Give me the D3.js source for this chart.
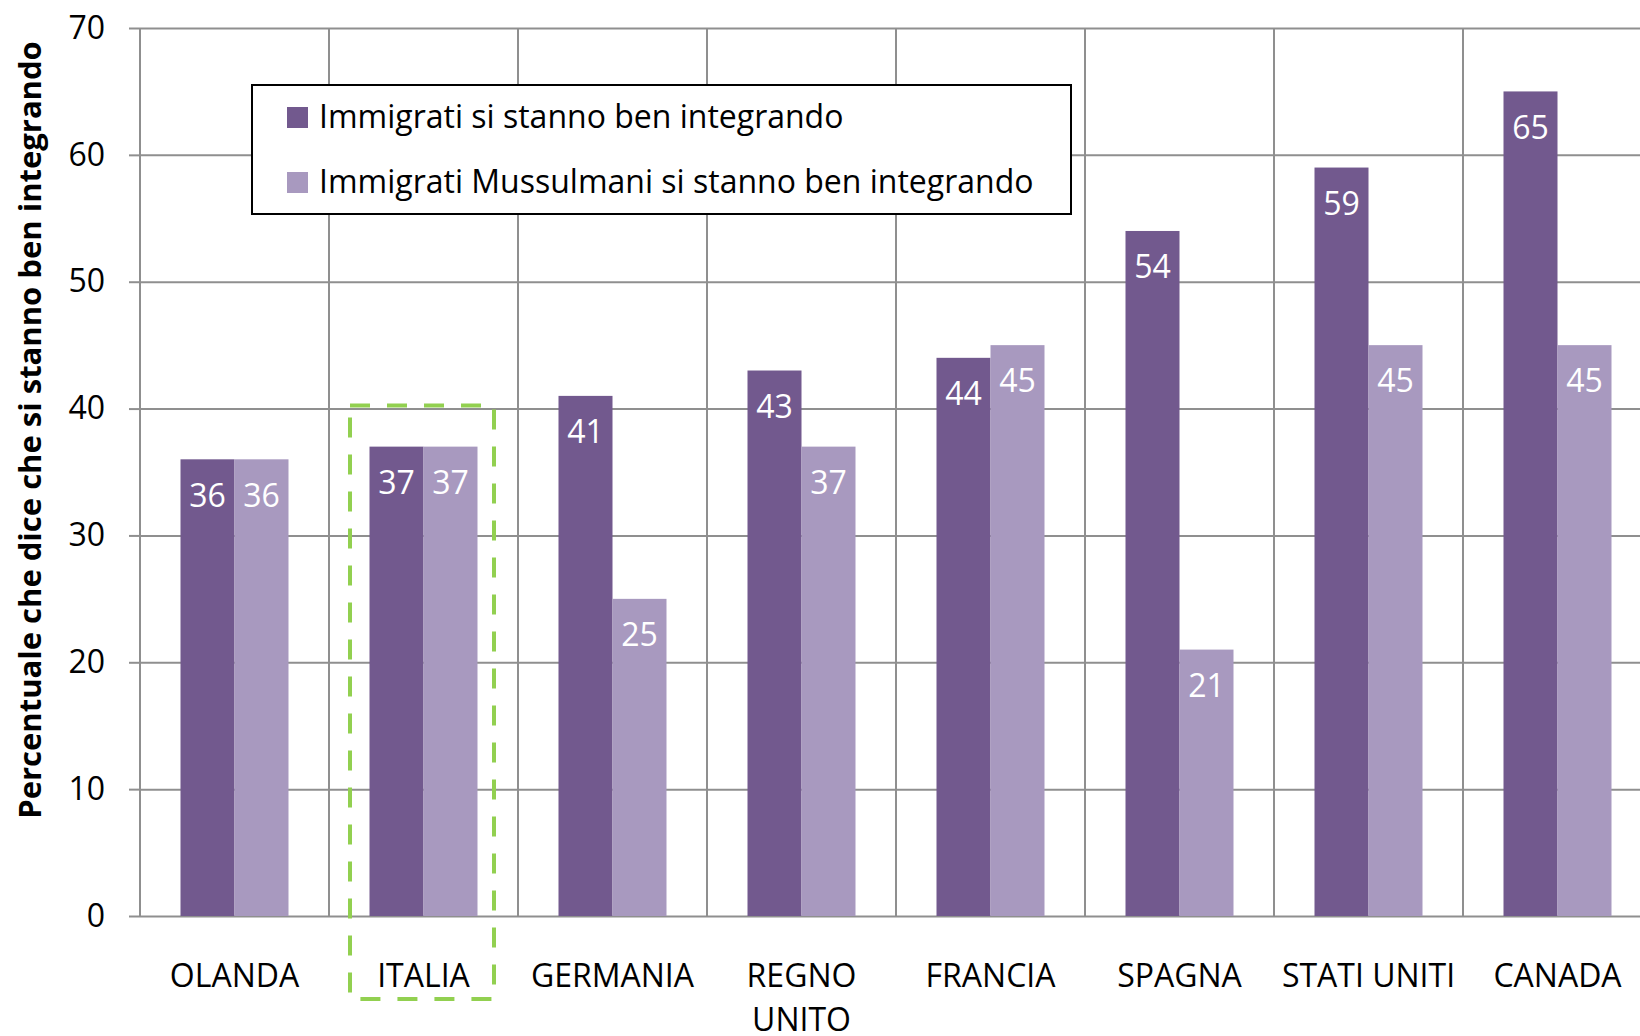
<!DOCTYPE html>
<html>
<head>
<meta charset="utf-8">
<script src="https://cdn.jsdelivr.net/npm/d3@7"></script>
<style>
  body { margin: 0; background: #fff; }
  svg { display: block; font-family: "Open Sans", sans-serif; }
</style>
</head>
<body>
<svg width="1640" height="1036"></svg>
<script>
// chart values
var categories = ["OLANDA", "ITALIA", "GERMANIA", "REGNO UNITO", "FRANCIA", "SPAGNA", "STATI UNITI", "CANADA"];
var catLabels = [["OLANDA"], ["ITALIA"], ["GERMANIA"], ["REGNO", "UNITO"], ["FRANCIA"], ["SPAGNA"], ["STATI UNITI"], ["CANADA"]];
var seriesNames = ["Immigrati si stanno ben integrando", "Immigrati Mussulmani si stanno ben integrando"];
var immigrati = [36, 37, 41, 43, 44, 54, 59, 65];
var mussulmani = [36, 37, 25, 37, 45, 21, 45, 45];
var yTicks = [0, 10, 20, 30, 40, 50, 60, 70];
var highlight = "ITALIA";

var colors = ["#72598e", "#a899bf"];
var gridColor = "#8f8f8f";

// note: "top" clashes with window.top, so plot* names
var plotLeft = 140, plotRight = 1652, plotTop = 28, plotBottom = 916;

var svg = d3.select("svg");

var x = d3.scaleBand()
    .domain(categories)
    .range([plotLeft, plotRight])
    .padding(0);

var x1 = d3.scaleBand()
    .domain([0, 1])
    .range([0, x.bandwidth()])
    .paddingInner(0)
    .paddingOuter(0.75);

var y = d3.scaleLinear()
    .domain([0, 70])
    .range([plotBottom, plotTop]);

var rows = categories.map(function(c, i) {
    return { cat: c, vals: [immigrati[i], mussulmani[i]] };
});

// horizontal gridlines
svg.append("g")
    .attr("transform", "translate(" + plotLeft + ",0)")
    .call(d3.axisLeft(y).tickValues(yTicks).tickSize(-(plotRight - plotLeft)).tickFormat(""))
    .call(function(g) { g.select(".domain").remove(); })
    .selectAll("line")
    .attr("stroke", gridColor)
    .attr("stroke-width", 2);

// vertical gridlines between categories
svg.append("g").selectAll("line")
    .data(categories.concat(["end"]))
    .enter()
    .append("line")
    .attr("x1", function(d) { return d === "end" ? plotRight : x(d); })
    .attr("x2", function(d) { return d === "end" ? plotRight : x(d); })
    .attr("y1", plotTop)
    .attr("y2", plotBottom)
    .attr("stroke", gridColor)
    .attr("stroke-width", 2);

// y axis ticks + labels
var yAxis = svg.append("g")
    .attr("transform", "translate(" + plotLeft + ",0)")
    .call(d3.axisLeft(y).tickValues(yTicks).tickSize(11).tickPadding(24))
    .call(function(g) { g.select(".domain").remove(); });
yAxis.selectAll("line").attr("stroke", gridColor).attr("stroke-width", 2);
yAxis.selectAll("text")
    .attr("font-family", "Open Sans")
    .attr("font-size", 32)
    .attr("fill", "#000");

// bars
var groups = svg.append("g").selectAll("g")
    .data(rows)
    .enter()
    .append("g")
    .attr("transform", function(d) { return "translate(" + x(d.cat) + ",0)"; });

groups.selectAll("rect")
    .data(function(d) { return d.vals; })
    .enter()
    .append("rect")
    .attr("x", function(d, i) { return x1(i); })
    .attr("y", function(d) { return y(d); })
    .attr("width", x1.bandwidth())
    .attr("height", function(d) { return y(0) - y(d); })
    .attr("fill", function(d, i) { return colors[i]; });

// value labels inside the bar tops
groups.selectAll("text")
    .data(function(d) { return d.vals; })
    .enter()
    .append("text")
    .attr("x", function(d, i) { return x1(i) + x1.bandwidth() / 2; })
    .attr("y", function(d) { return y(d) + 36; })
    .attr("dy", "0.35em")
    .attr("text-anchor", "middle")
    .attr("font-size", 32)
    .attr("fill", "#fff")
    .text(function(d) { return d; });

// category labels
var catText = svg.append("g").selectAll("text")
    .data(categories)
    .enter()
    .append("text")
    .attr("x", function(d) { return x(d) + x.bandwidth() / 2; })
    .attr("y", 987)
    .attr("text-anchor", "middle")
    .attr("font-size", 32)
    .attr("fill", "#000");

catText.selectAll("tspan")
    .data(function(d, i) { return catLabels[i]; })
    .enter()
    .append("tspan")
    .attr("x", function() { return d3.select(this.parentNode).attr("x"); })
    .attr("dy", function(d, i) { return i === 0 ? 0 : 44; })
    .text(function(d) { return d; });

// y axis title
svg.append("text")
    .attr("transform", "translate(41," + ((42 + 818) / 2) + ") rotate(-90)")
    .attr("text-anchor", "middle")
    .attr("font-size", 31)
    .attr("font-weight", "bold")
    .attr("fill", "#000")
    .text("Percentuale che dice che si stanno ben integrando");

// legend
var legend = svg.append("g");
legend.append("rect")
    .attr("x", 252)
    .attr("y", 85)
    .attr("width", 819)
    .attr("height", 129)
    .attr("fill", "#fff")
    .attr("stroke", "#000")
    .attr("stroke-width", 2);

var items = legend.selectAll("g")
    .data(seriesNames)
    .enter()
    .append("g")
    .attr("transform", function(d, i) { return "translate(287," + (107 + i * 65) + ")"; });

items.append("rect")
    .attr("width", 21)
    .attr("height", 21)
    .attr("fill", function(d, i) { return colors[i]; });

items.append("text")
    .attr("x", 32)
    .attr("y", 21)
    .attr("font-size", 32)
    .attr("fill", "#000")
    .text(function(d) { return d; });

// green dashed highlight round ITALIA
svg.append("rect")
    .attr("x", x(highlight) + 21)
    .attr("y", y(40) - 3)
    .attr("width", x.bandwidth() - 45)
    .attr("height", 999 - (y(40) - 3))
    .attr("fill", "none")
    .attr("stroke", "#92d050")
    .attr("stroke-width", 4)
    .attr("stroke-dasharray", "20,17");
</script>
</body>
</html>
